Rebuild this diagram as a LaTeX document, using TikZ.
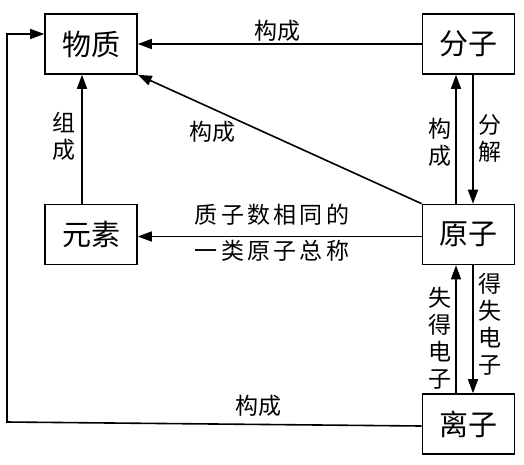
\documentclass[tikz,border=0pt]{standalone}
\usepackage{fontspec}
\newfontfamily\cjk{Noto Sans CJK SC}
\newfontfamily\cjkwide[LetterSpace=14]{Noto Sans CJK SC}
\usetikzlibrary{arrows.meta}
\begin{document}
\begin{tikzpicture}[x=1pt,y=-1pt,
  box/.style={draw,line width=1.6pt,minimum width=92pt,minimum height=60pt,inner sep=0pt,font=\cjk\fontsize{29}{31}\selectfont},
  arr/.style={line width=1.6pt,-{Triangle[length=14pt,width=10pt]}},
  lbl/.style={inner sep=0pt,align=center,font=\cjk\fontsize{23}{27}\selectfont},
  wlbl/.style={inner sep=0pt,align=center,font=\cjkwide\fontsize{23}{27}\selectfont}]
\useasboundingbox (0,0) rectangle (524,464);
\fill[white] (0,0) rectangle (524,464);
\node[box] (wz) at (91,44) {物质};
\node[box] (fz) at (468.5,44) {分子};
\node[box] (ys) at (91,234.5) {元素};
\node[box] (yz) at (468.5,234.5) {原子};
\node[box] (lz) at (468.5,424) {离子};
% arrows
\draw[arr] (fz.west) -- (wz.east);
\draw[arr] ([xshift=-9pt]ys.north) -- ([xshift=-9pt]wz.south);
\draw[arr] (yz.north west) -- (wz.south east);
\draw[arr] ([xshift=-12.5pt]yz.north) -- ([xshift=-12.5pt]fz.south);
\draw[arr] ([xshift=4.5pt]fz.south) -- ([xshift=4.5pt]yz.north);
\draw[arr] ([yshift=-2pt]yz.west) -- ([yshift=-2pt]ys.east);
\draw[arr] ([xshift=-12.5pt]lz.north) -- ([xshift=-12.5pt]yz.south);
\draw[arr] ([xshift=4.5pt]yz.south) -- ([xshift=4.5pt]lz.north);
\coordinate (corner) at (7,422);
\draw[arr] ([yshift=-2pt]lz.west) -- (corner) |- ([yshift=10pt]wz.west);
% labels
\node[lbl] (l1) at (277,31) {构成};
\node[lbl] (l2) at (64,136) {组\\成};
\node[lbl] (l3) at (212,132) {构成};
\node[lbl] (l4) at (440,142) {构\\成};
\node[lbl] (l5) at (490,138) {分\\解};
\node[wlbl] (l6) at (272,215) {质子数相同的};
\node[wlbl] (l7) at (272,251) {一类原子总称};
\node[lbl] (l8) at (440,338) {失\\得\\电\\子};
\node[lbl] (l9) at (490,324) {得\\失\\电\\子};
\node[lbl] (l10) at (258,406) {构成};
\end{tikzpicture}
\end{document}
